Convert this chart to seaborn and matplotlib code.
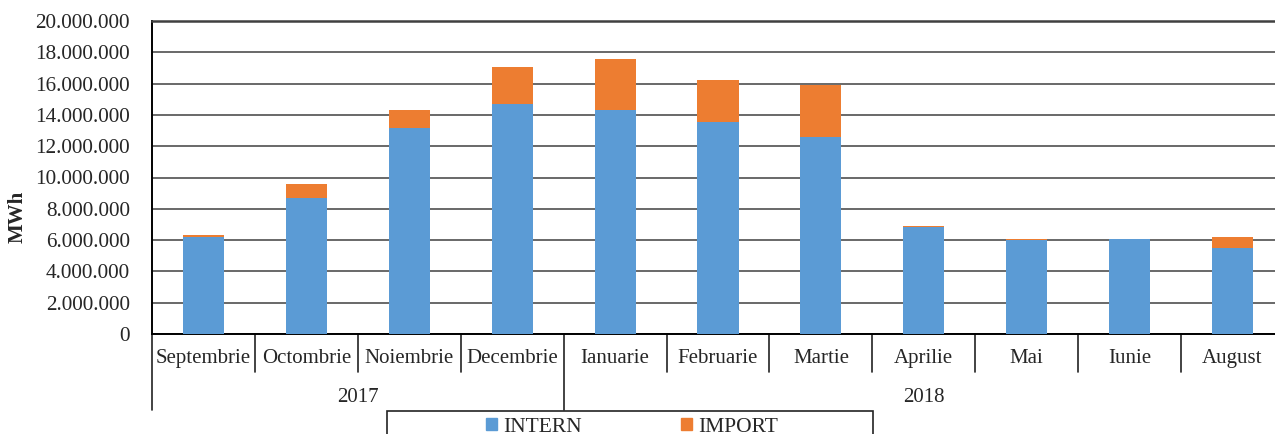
import matplotlib
matplotlib.use("Agg")
import matplotlib.pyplot as plt
import matplotlib.patches as mpatches
import matplotlib.ticker as mticker
import pandas as pd
import seaborn as sns

months = ["Septembrie", "Octombrie", "Noiembrie", "Decembrie", "Ianuarie",
          "Februarie", "Martie", "Aprilie", "Mai", "Iunie", "August"]
years = ["2017", "2018"]
year_spans = [(0, 4), (4, 11)]  # month index ranges for each year group
intern = [6220000, 8710000, 13140000, 14680000, 14290000,
          13570000, 12570000, 6840000, 6030000, 6050000, 5520000]
import_ = [80000, 900000, 1170000, 2360000, 3280000,
           2680000, 3360000, 60000, 20000, 20000, 660000]

blue = "#5B9BD5"
orange = "#ED7D31"

df = pd.DataFrame({"Luna": months, "INTERN": intern, "IMPORT": import_})
df["TOTAL"] = df["INTERN"] + df["IMPORT"]

sns.set_style("white")
plt.rcParams["font.family"] = ["Liberation Serif", "DejaVu Serif"]
plt.rcParams["font.size"] = 15

fig = plt.figure(figsize=(12.75, 4.34), dpi=100)
ax = fig.add_axes([152 / 1275, 1 - 334 / 434, 1132 / 1275, 313 / 434])

sns.barplot(data=df, x="Luna", y="TOTAL", color=orange, width=0.4,
            linewidth=0, saturation=1, ax=ax, zorder=3)
sns.barplot(data=df, x="Luna", y="INTERN", color=blue, width=0.4,
            linewidth=0, saturation=1, ax=ax, zorder=3)

ax.set_xlim(-0.5, len(months) - 0.5)
ax.set_ylim(0, 20000000)
ax.yaxis.set_major_locator(mticker.MultipleLocator(2000000))
ax.yaxis.set_major_formatter(
    mticker.FuncFormatter(lambda v, p: f"{int(v):,}".replace(",", ".")))
ax.yaxis.grid(True, color="#404040", lw=1.1, zorder=0)
ax.set_axisbelow(True)

for s in ["left", "bottom"]:
    ax.spines[s].set_color("black")
    ax.spines[s].set_linewidth(1.4)
ax.spines["top"].set_color("#404040")
ax.spines["top"].set_linewidth(1.8)
ax.spines["right"].set_visible(False)

ax.tick_params(axis="y", length=5, width=1.2, color="black", labelsize=15.3, pad=11)
ax.tick_params(axis="x", length=0, labelsize=15, pad=11)
ax.set_xlabel("")
ax.set_ylabel("MWh", fontweight="bold", fontsize=15)
ax.yaxis.set_label_coords(-0.110, 0.374)

# category separators below the axis
trans = ax.get_xaxis_transform()
bounds = [a for a, b in year_spans] + [year_spans[-1][1]]
for i in range(len(months) + 1):
    low = -0.243 if i in bounds else -0.121
    ax.plot([i - 0.5, i - 0.5], [0, low], transform=trans, color="#222222",
            lw=1.2, clip_on=False)

for yr, (a, b) in zip(years, year_spans):
    ax.text((a + b - 1) / 2, -0.204, yr, transform=trans, ha="center",
            va="center", fontsize=15)

# legend
handles = [mpatches.Patch(color=blue, label="INTERN"),
           mpatches.Patch(color=orange, label="IMPORT")]
fig.legend(handles=handles, loc="center", ncol=2, frameon=False,
           bbox_to_anchor=(632 / 1275, 1 - 427 / 434), fontsize=15.5,
           handlelength=0.5, handleheight=0.5, handletextpad=0.3,
           columnspacing=4.6, borderpad=0)
fig.patches.append(mpatches.Rectangle((387 / 1275, -0.1), 486 / 1275,
                                      0.1 + (434 - 411) / 434,
                                      transform=fig.transFigure, fill=False,
                                      edgecolor="#222222", lw=1.2))

fig.savefig("out.png", dpi=100)
